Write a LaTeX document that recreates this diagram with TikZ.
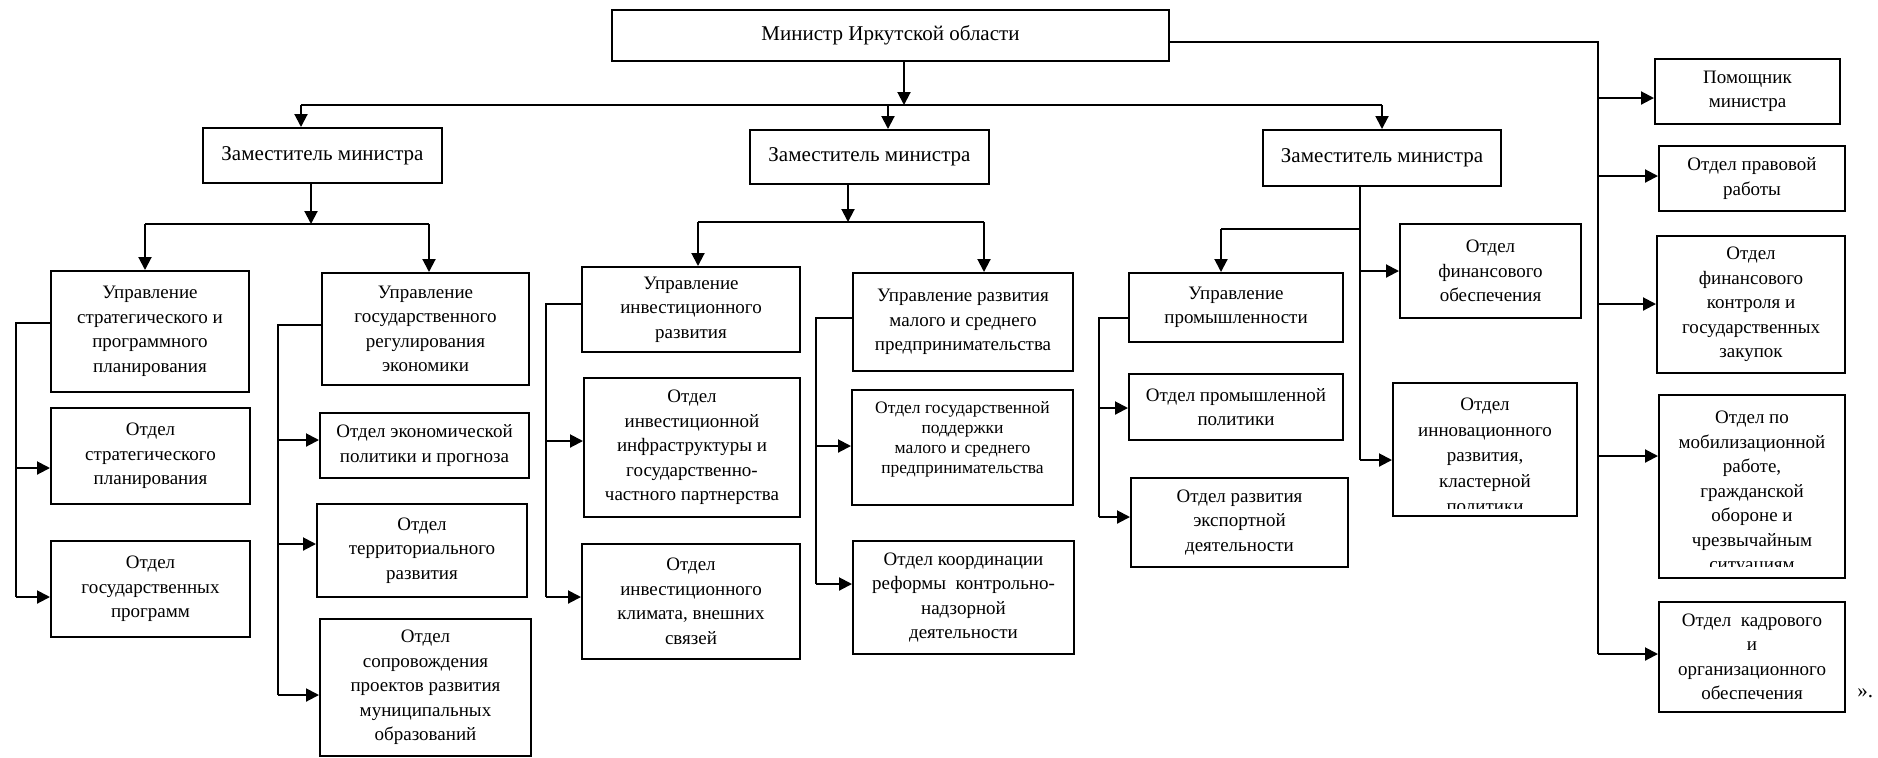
\documentclass[tikz,border=0pt]{standalone}
\usepackage{fontspec}
\setmainfont{Liberation Serif}
\usetikzlibrary{arrows.meta,calc}
\tikzset{
  bx/.style={draw, line width=1pt, inner sep=0pt, align=center,
    font=\fontsize{9.5pt}{12.25pt}\selectfont},
  sz/.style 2 args={minimum width=#1*0.5pt, minimum height=#2*0.5pt},
  big/.style={font=\fontsize{10.5pt}{12.6pt}\selectfont},
  sm/.style={font=\fontsize{8.75pt}{10pt}\selectfont},
  txt/.style={inner sep=0pt, align=center, font=\fontsize{9.5pt}{12.25pt}\selectfont},
  ln/.style={line width=1pt},
  arr/.style={line width=1pt, -{Triangle[length=6.5pt,width=6.5pt]}},
}
\begin{document}
\begin{tikzpicture}[x=0.5pt,y=-0.5pt]
\useasboundingbox (0,0) rectangle (1878,757);

% top level
\node[bx,big,sz={557}{51}] (min) at (890.5,35.5) {Министр Иркутской области};
\node[bx,big,sz={239}{55}] (zam1) at (322.5,155.5) {Заместитель министра};
\node[bx,big,sz={239}{54}] (zam2) at (869.5,157) {Заместитель министра};
\node[bx,big,sz={238}{56}] (zam3) at (1382,158) {Заместитель министра};

% departments (управления)
\node[bx,sz={198}{121}] (upr1) at (150,331.5) {Управление\\стратегического и\\программного\\планирования};
\node[bx,sz={207}{112}] (upr2) at (425.5,329) {Управление\\государственного\\регулирования\\экономики};
\node[bx,sz={218}{85}] (upr3) at (691,309.5) {Управление\\инвестиционного\\развития};
\node[bx,sz={220}{98}] (upr4) at (963,322) {Управление развития\\малого и среднего\\предпринимательства};
\node[bx,sz={214}{69}] (upr5) at (1236,307.5) {Управление\\промышленности};
\node[bx,sz={181}{94}] (finob) at (1490.5,271) {Отдел\\финансового\\обеспечения};

% right column
\node[bx,sz={185}{65}] (pom) at (1747.5,91.5) {Помощник\\министра};
\node[bx,sz={186}{65}] (prav) at (1752,178.5) {Отдел правовой\\работы};
\node[bx,sz={188}{137}] (finkon) at (1751,304.5) {Отдел\\финансового\\контроля и\\государственных\\закупок};
\node[bx,sz={186}{183}] (mobil) at (1752,486) {};
\node[bx,sz={186}{110}] (kadr) at (1752,657) {Отдел\ \ кадрового\\и\\организационного\\обеспечения};

% sections (отделы)
\node[bx,sz={199}{96}] (strat) at (150.5,456) {Отдел\\стратегического\\планирования};
\node[bx,sz={199}{96}] (gosprog) at (150.5,589) {Отдел\\государственных\\программ};
\node[bx,sz={209}{65}] (econ) at (424.5,445.5) {Отдел экономической\\политики и прогноза};
\node[bx,sz={210}{93}] (territ) at (422,550.5) {Отдел\\территориального\\развития};
\node[bx,sz={211}{137}] (soprov) at (425.5,687.5) {Отдел\\сопровождения\\проектов развития\\муниципальных\\образований};
\node[bx,sz={216}{139}] (infra) at (692,447.5) {Отдел\\инвестиционной\\инфраструктуры и\\государственно-\\частного партнерства};
\node[bx,sz={218}{115}] (klimat) at (691,601.5) {Отдел\\инвестиционного\\климата, внешних\\связей};
\node[bx,sm,sz={221}{115}] (podd) at (962.5,447) {Отдел государственной\\поддержки\\малого и среднего\\предпринимательства\rule[-9.4pt]{0pt}{0pt}};
\node[bx,sz={221}{113}] (koord) at (963.5,597.5) {Отдел координации\\реформы\ \ контрольно-\\надзорной\\деятельности};
\node[bx,sz={214}{66}] (prompol) at (1236,407) {Отдел промышленной\\политики};
\node[bx,sz={217}{89}] (export) at (1239.5,522.5) {Отдел развития\\экспортной\\деятельности};
\node[bx,sz={184}{133}] (innov) at (1485,449.5) {};

% clipped texts
\begin{scope}
\clip ([yshift=4.5pt]innov.south west) rectangle (innov.north east);
\node[txt,anchor=north,font=\fontsize{9.5pt}{12.75pt}\selectfont] (innovt) at ([yshift=-8pt]innov.north) {Отдел\\инновационного\\развития,\\кластерной\\политики};
\end{scope}
\begin{scope}
\clip ([yshift=6pt]mobil.south west) rectangle (mobil.north east);
\node[txt,anchor=north] (mobilt) at ([yshift=-8.75pt]mobil.north) {Отдел по\\мобилизационной\\работе,\\гражданской\\обороне и\\чрезвычайным\\ситуациям};
\end{scope}

\node[big,inner sep=0pt,anchor=west] (quote) at (1857,693) {».};

% minister to deputies
\coordinate (t0) at (904,105);
\coordinate (bL) at (301,105);
\coordinate (bM) at (888,105);
\coordinate (bR) at (1382,105);
\draw[arr] (min.south -| t0) -- (t0);
\draw[ln] (bL) -- (bR);
\draw[arr] (bL) -- (bL |- zam1.north);
\draw[arr] (bM) -- (bM |- zam2.north);
\draw[arr] (bR) -- (bR |- zam3.north);

% deputy 1
\coordinate (z1) at (311,224);
\coordinate (z1L) at (145,224);
\coordinate (z1R) at (429,224);
\draw[arr] (zam1.south -| z1) -- (z1);
\draw[ln] (z1L) -- (z1R);
\draw[arr] (z1L) -- (z1L |- upr1.north);
\draw[arr] (z1R) -- (z1R |- upr2.north);

% deputy 2
\coordinate (z2) at (848,222);
\coordinate (z2L) at (698,222);
\coordinate (z2R) at (984,222);
\draw[arr] (zam2.south -| z2) -- (z2);
\draw[ln] (z2L) -- (z2R);
\draw[arr] (z2L) -- (z2L |- upr3.north);
\draw[arr] (z2R) -- (z2R |- upr4.north);

% deputy 3
\coordinate (z3) at (1360,229);
\coordinate (z3L) at (1221,229);
\coordinate (z3b) at (1360,460);
\draw[ln] (zam3.south -| z3) -- (z3b);
\draw[ln] (z3) -- (z3L);
\draw[arr] (z3L) -- (z3L |- upr5.north);
\draw[arr] (z3 |- finob.west) -- (finob.west);
\draw[arr] (z3b) -- (z3b -| innov.west);

% minister right column
\coordinate (r0) at (1598,42);
\coordinate (ra) at (1598,98);
\coordinate (rb) at (1598,176);
\coordinate (rc) at (1598,304);
\coordinate (rd) at (1598,456);
\coordinate (re) at (1598,654);
\draw[ln] (min.east |- r0) -- (r0) -- (re);
\draw[arr] (ra) -- (ra -| pom.west);
\draw[arr] (rb) -- (rb -| prav.west);
\draw[arr] (rc) -- (rc -| finkon.west);
\draw[arr] (rd) -- (rd -| mobil.west);
\draw[arr] (re) -- (re -| kadr.west);

% upr1 branch
\coordinate (u1) at (15.5,323);
\coordinate (u1a) at (15.5,468);
\coordinate (u1b) at (15.5,597);
\draw[ln] (upr1.west |- u1) -- (u1) -- (u1b);
\draw[arr] (u1a) -- (u1a -| strat.west);
\draw[arr] (u1b) -- (u1b -| gosprog.west);

% upr2 branch
\coordinate (u2) at (277.5,325);
\coordinate (u2a) at (277.5,440);
\coordinate (u2b) at (277.5,544);
\coordinate (u2c) at (277.5,695);
\draw[ln] (upr2.west |- u2) -- (u2) -- (u2c);
\draw[arr] (u2a) -- (u2a -| econ.west);
\draw[arr] (u2b) -- (u2b -| territ.west);
\draw[arr] (u2c) -- (u2c -| soprov.west);

% upr3 branch
\coordinate (u3) at (546,304);
\coordinate (u3a) at (546,441);
\coordinate (u3b) at (546,597);
\draw[ln] (upr3.west |- u3) -- (u3) -- (u3b);
\draw[arr] (u3a) -- (u3a -| infra.west);
\draw[arr] (u3b) -- (u3b -| klimat.west);

% upr4 branch
\coordinate (u4) at (816,318);
\coordinate (u4a) at (816,446);
\coordinate (u4b) at (816,584);
\draw[ln] (upr4.west |- u4) -- (u4) -- (u4b);
\draw[arr] (u4a) -- (u4a -| podd.west);
\draw[arr] (u4b) -- (u4b -| koord.west);

% upr5 branch
\coordinate (u5) at (1099,318);
\coordinate (u5a) at (1099,408);
\coordinate (u5b) at (1099,517);
\draw[ln] (upr5.west |- u5) -- (u5) -- (u5b);
\draw[arr] (u5a) -- (u5a -| prompol.west);
\draw[arr] (u5b) -- (u5b -| export.west);
\end{tikzpicture}
\end{document}
